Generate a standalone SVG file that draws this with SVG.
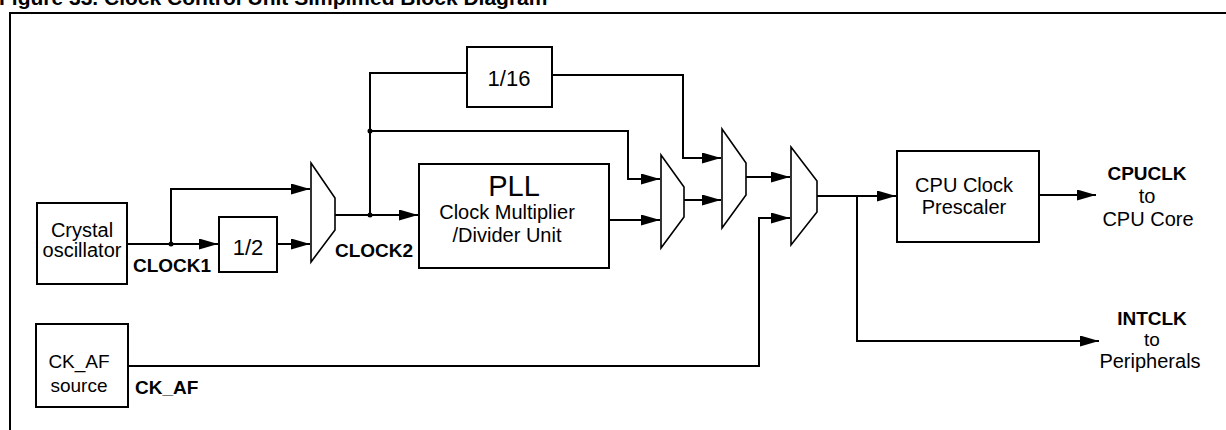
<svg xmlns="http://www.w3.org/2000/svg" width="1226" height="430" viewBox="0 0 1226 430">
<style>
.box{fill:#fff;stroke:#000;stroke-width:2}
.mux{fill:#fff;stroke:#000;stroke-width:1.6}
.w{fill:none;stroke:#000;stroke-width:2}
.t{font-family:"Liberation Sans",Arial,sans-serif;font-size:20px;fill:#000}
.b{font-family:"Liberation Sans",Arial,sans-serif;font-size:19px;font-weight:bold;fill:#000}
.m{text-anchor:middle}
</style>
<defs>
<marker id="ar" markerUnits="userSpaceOnUse" markerWidth="22" markerHeight="12" refX="19" refY="5.5" orient="auto">
<path d="M0,0 L19,5.5 L0,11 z" fill="#000"/>
</marker>
</defs>
<rect width="1226" height="430" fill="#fff"/>
<text x="-1" y="5" font-family="Liberation Sans,Arial,sans-serif" font-size="21" font-weight="bold">Figure 33. Clock Control Unit Simplified Block Diagram</text>
<path d="M10,430 V13 H1226" fill="none" stroke="#000" stroke-width="2"/>

<g id="connectors">
<path class="w" d="M127,244 H218" marker-end="url(#ar)"/>
<path class="w" d="M171,244 V189 H310" marker-end="url(#ar)"/>
<path class="w" d="M277,244 H310" marker-end="url(#ar)"/>
<path class="w" d="M335,215 H418" marker-end="url(#ar)"/>
<path class="w" d="M370,215 V73 H467"/>
<path class="w" d="M370,131 H628 V179 H660" marker-end="url(#ar)"/>
<path class="w" d="M552,75 H683 V158 H721" marker-end="url(#ar)"/>
<path class="w" d="M609,220 H660" marker-end="url(#ar)"/>
<path class="w" d="M684,200 H721" marker-end="url(#ar)"/>
<path class="w" d="M746,177 H790" marker-end="url(#ar)"/>
<path class="w" d="M128,366 H759 V218 H790" marker-end="url(#ar)"/>
<path class="w" d="M817,196 H896" marker-end="url(#ar)"/>
<path class="w" d="M857,196 V341 H1099" marker-end="url(#ar)"/>
<path class="w" d="M1039,195 H1096" marker-end="url(#ar)"/>
<circle cx="171" cy="244" r="2.5"/>
<circle cx="370" cy="215" r="2.5"/>
<circle cx="370" cy="131" r="2.5"/>
</g>

<g id="crystal">
<rect class="box" x="37" y="203" width="90" height="81"/>
<text class="t m" x="82" y="237">Crystal</text>
<text class="t m" x="82" y="257">oscillator</text>
</g>
<g id="div2">
<rect class="box" x="219" y="217" width="58" height="55"/>
<text class="t m" x="248" y="255" style="font-size:22px">1/2</text>
</g>
<g id="mux1">
<path class="mux" d="M311,163 L335,198 L335,230 L311,262 Z"/>
</g>
<g id="div16">
<rect class="box" x="467" y="47" width="85" height="60"/>
<text class="t m" x="509" y="86" style="font-size:22px">1/16</text>
</g>
<g id="pll">
<rect class="box" x="419" y="164" width="190" height="104"/>
<text class="t m" x="514" y="196" style="font-size:29px">PLL</text>
<text class="t m" x="507" y="219">Clock Multiplier</text>
<text class="t m" x="507" y="242">/Divider Unit</text>
</g>
<g id="mux2">
<path class="mux" d="M661,155 L684,187 L684,217 L661,248 Z"/>
</g>
<g id="mux3">
<path class="mux" d="M722,129 L746,163 L746,195 L722,228 Z"/>
</g>
<g id="mux4">
<path class="mux" d="M791,147 L817,181 L817,212 L791,245 Z"/>
</g>
<g id="prescaler">
<rect class="box" x="897" y="151" width="142" height="91"/>
<text class="t m" x="964" y="192">CPU Clock</text>
<text class="t m" x="964" y="214">Prescaler</text>
</g>
<g id="ckaf">
<rect class="box" x="36" y="324" width="92" height="83"/>
<text class="t m" x="79" y="368" style="font-size:19px">CK_AF</text>
<text class="t m" x="79" y="392" style="font-size:19px">source</text>
</g>
<g id="labels">
<text class="b" x="133" y="272">CLOCK1</text>
<text class="b" x="335" y="257">CLOCK2</text>
<text class="b" x="135" y="394">CK_AF</text>
<text class="b m" x="1147" y="180">CPUCLK</text>
<text class="t m" x="1147" y="203">to</text>
<text class="t m" x="1148" y="226">CPU Core</text>
<text class="b m" x="1152" y="325">INTCLK</text>
<text class="t m" x="1152" y="346" style="font-size:19px">to</text>
<text class="t m" x="1150" y="368">Peripherals</text>
</g>
</svg>
